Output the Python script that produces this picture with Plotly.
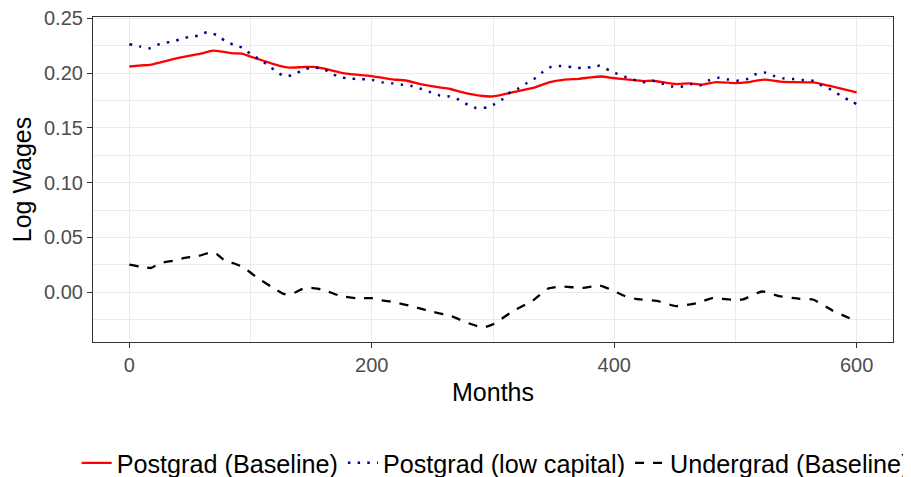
import plotly.graph_objects as go

# ---- data ----
pg_base_months = [0, 10, 17, 25, 36, 50, 58, 69, 77, 86, 93, 100, 110, 124, 132, 143, 152, 160, 174, 187,
                  201, 215, 229, 240, 256, 264, 275, 289, 300, 308, 316, 333, 347, 358, 371, 380, 389, 399,
                  412, 424, 432, 451, 462, 472, 484, 500, 509, 524, 539, 564, 577, 600]
pg_base_vals = [0.2060, 0.2070, 0.2075, 0.2095, 0.2127, 0.2160, 0.2175, 0.2205, 0.2195, 0.2180, 0.2178,
                0.2150, 0.2115, 0.2066, 0.2050, 0.2055, 0.2057, 0.2042, 0.2005, 0.1985, 0.1970, 0.1945,
                0.1930, 0.1900, 0.1870, 0.1857, 0.1824, 0.1794, 0.1787, 0.1803, 0.1824, 0.1864, 0.1918,
                0.1939, 0.1948, 0.1960, 0.1969, 0.1955, 0.1940, 0.1927, 0.1930, 0.1900, 0.1906, 0.1894,
                0.1918, 0.1909, 0.1915, 0.1940, 0.1920, 0.1915, 0.1885, 0.1824]

pg_low_months = [0, 9, 17, 25, 34, 41, 49, 57, 64, 72, 79, 86, 93, 100, 108, 115, 121, 128, 136, 143, 151,
                 159, 165, 173, 181, 189, 197, 201, 209, 217, 225, 233, 241, 248, 256, 264, 272, 279, 286,
                 295, 301, 308, 314, 321, 328, 335, 341, 348, 356, 365, 373, 381, 388, 396, 401, 409, 416,
                 424, 432, 440, 448, 455, 463, 471, 478, 486, 494, 501, 509, 516, 524, 532, 540, 548, 556,
                 564, 571, 579, 586, 593, 600]
pg_low_vals = [0.2264, 0.2242, 0.2227, 0.2266, 0.2285, 0.2305, 0.2330, 0.2342, 0.2373, 0.2348, 0.2294,
               0.2257, 0.2233, 0.2175, 0.2120, 0.2070, 0.2015, 0.1973, 0.1985, 0.2030, 0.2050, 0.2042,
               0.2009, 0.1964, 0.1951, 0.1945, 0.1942, 0.1936, 0.1915, 0.1906, 0.1894, 0.1882, 0.1855,
               0.1827, 0.1796, 0.1787, 0.1757, 0.1712, 0.1682, 0.1687, 0.1715, 0.1764, 0.1824, 0.1860,
               0.1909, 0.1955, 0.2009, 0.2057, 0.2064, 0.2055, 0.2045, 0.2055, 0.2066, 0.2024, 0.2000,
               0.1966, 0.1940, 0.1917, 0.1930, 0.1902, 0.1878, 0.1875, 0.1900, 0.1887, 0.1933, 0.1957,
               0.1942, 0.1930, 0.1942, 0.1987, 0.2005, 0.1973, 0.1951, 0.1945, 0.1936, 0.1930, 0.1887,
               0.1848, 0.1800, 0.1757, 0.1718]

ug_base_months = [0, 9, 18, 25, 36, 47, 56, 68, 72, 80, 86, 94, 105, 117, 127, 134, 143, 150, 160, 174,
                  187, 200, 208, 218, 234, 251, 264, 281, 292, 301, 316, 333, 345, 356, 374, 388, 399,
                  407, 418, 435, 451, 468, 481, 498, 506, 522, 536, 553, 564, 580, 600]
ug_base_vals = [0.0251, 0.0233, 0.0221, 0.0264, 0.0287, 0.0315, 0.0327, 0.0364, 0.0348, 0.0278, 0.0264,
                0.0227, 0.0136, 0.0051, -0.0015, -0.0015, 0.0030, 0.0039, 0.0021, -0.0034, -0.0055,
                -0.0055, -0.0075, -0.0091, -0.0131, -0.0182, -0.0213, -0.0288, -0.0322, -0.0288, -0.0176,
                -0.0076, 0.0030, 0.0051, 0.0039, 0.0060, 0.0015, -0.0028, -0.0062, -0.0079, -0.0127,
                -0.0100, -0.0055, -0.0070, -0.0067, 0.0006, -0.0036, -0.0061, -0.0067, -0.0167, -0.0267]

series_names = ["Postgrad (Baseline)", "Postgrad (low capital)", "Undergrad (Baseline)"]
x_ticks = [0, 200, 400, 600]
y_ticks = [0.00, 0.05, 0.10, 0.15, 0.20, 0.25]

FONT = "Arial, Liberation Sans, Helvetica, sans-serif"

fig = go.Figure()
fig.add_trace(go.Scatter(x=pg_base_months, y=pg_base_vals, mode="lines", name=series_names[0],
                         line=dict(color="#FF0000", width=2.3, shape="spline", smoothing=0.5)))
fig.add_trace(go.Scatter(x=pg_low_months, y=pg_low_vals, mode="lines", name=series_names[1],
                         line=dict(color="#00008B", width=2.5, dash="2.5px,7.2px", shape="spline", smoothing=0.5)))
fig.add_trace(go.Scatter(x=ug_base_months, y=ug_base_vals, mode="lines", name=series_names[2],
                         line=dict(color="#000000", width=2.3, dash="9px,9px", shape="spline", smoothing=0.5)))

axis_common = dict(
    showline=True, linecolor="#333333", linewidth=1.1, mirror=True,
    ticks="outside", ticklen=5, tickcolor="#333333", tickwidth=1.1,
    showgrid=True, gridcolor="#EBEBEB", gridwidth=1.4,
    zeroline=False, automargin=True, ticklabeloverflow="allow",
    tickfont=dict(family=FONT, size=20, color="#4D4D4D"),
)

fig.update_xaxes(
    range=[-30, 630], tickvals=x_ticks, ticktext=[str(v) for v in x_ticks],
    minor=dict(showgrid=True, gridcolor="#EBEBEB", gridwidth=0.7, tickvals=[100, 300, 500], ticks=""),
    title=dict(text="Months", font=dict(family=FONT, size=25, color="#000000"), standoff=8),
    **axis_common,
)
fig.update_yaxes(
    range=[-0.0455, 0.2512], tickvals=y_ticks, ticktext=[f"{v:.2f}" for v in y_ticks],
    minor=dict(showgrid=True, gridcolor="#EBEBEB", gridwidth=0.7,
               tickvals=[-0.025, 0.025, 0.075, 0.125, 0.175, 0.225], ticks=""),
    title=dict(text="Log Wages", font=dict(family=FONT, size=25, color="#000000"), standoff=11),
    **axis_common,
)

fig.update_layout(
    width=911, height=477,
    margin=dict(l=85, r=26, t=9, b=143, autoexpand=False),
    paper_bgcolor="white", plot_bgcolor="white",
    font=dict(family=FONT, color="#000000"),
    showlegend=True,
    legend=dict(
        orientation="h", x=-0.0204, xanchor="left", y=-0.372, yanchor="middle",
        font=dict(family=FONT, size=25.2, color="#000000"),
        bgcolor="rgba(0,0,0,0)", borderwidth=0, itemwidth=30, tracegroupgap=0,
    ),
)

fig.write_html("out.html")
